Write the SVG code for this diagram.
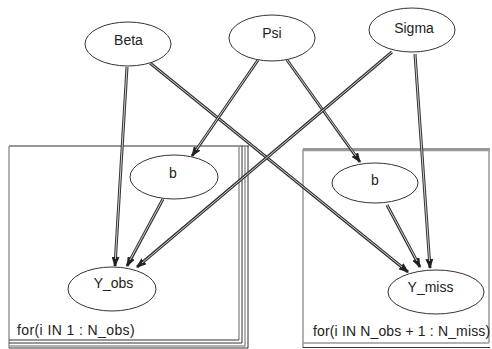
<svg xmlns="http://www.w3.org/2000/svg" width="492" height="349" viewBox="0 0 492 349">
<style>
.node ellipse{fill:#fff;stroke:#333;stroke-width:1}
text{font-family:"Liberation Sans",Arial,sans-serif;font-size:14px;fill:#222}
.lbl{text-anchor:middle}
.eo{stroke:#333;stroke-width:3;fill:none}
.ei{stroke:#d0d0d0;stroke-width:1;fill:none}
.pd{stroke:#333;stroke-width:1;fill:none}
.pg{stroke:#999;stroke-width:1.5;fill:none}
</style>
<defs>
<marker id="ah" markerUnits="userSpaceOnUse" markerWidth="10" markerHeight="8" refX="9" refY="4" orient="auto">
<path d="M0,0 L10,4 L0,8 z" fill="#222"/>
</marker>
</defs>
<g id="plate-obs">
<line class="pd" x1="9" y1="146" x2="249" y2="146"/>
<line class="pg" x1="9" y1="146" x2="9" y2="348"/>
<line class="pg" x1="239" y1="146" x2="239" y2="340"/>
<line class="pd" x1="9" y1="340" x2="239" y2="340"/>
<polyline class="pd" points="242,146 242,343 9,343"/>
<polyline class="pg" points="245,146 245,346 9,346"/>
<polyline class="pd" points="248,146 248,348 9,348"/>
<text x="17" y="335" style="letter-spacing:0.4px">for(i IN 1 : N_obs)</text>
</g>
<g id="plate-miss">
<line class="pd" x1="303" y1="149" x2="490" y2="149"/>
<line class="pg" x1="303" y1="150.5" x2="489" y2="150.5"/>
<line class="pg" x1="303" y1="149" x2="303" y2="348"/>
<line class="pg" x1="489" y1="149" x2="489" y2="343"/>
<line class="pg" x1="303" y1="343" x2="489" y2="343"/>
<line class="pd" x1="303" y1="347.5" x2="490" y2="347.5"/>
<text x="313" y="336" style="letter-spacing:0.15px">for(i IN N_obs + 1 : N_miss)</text>
</g>
<g id="connectors">
<line class="eo" x1="127" y1="67" x2="115" y2="266" marker-end="url(#ah)"/>
<line class="ei" x1="127" y1="67" x2="115.4" y2="259"/>
<line class="eo" x1="150" y1="63" x2="408" y2="272" marker-end="url(#ah)"/>
<line class="ei" x1="150" y1="63" x2="402" y2="267"/>
<line class="eo" x1="258" y1="60" x2="192" y2="156" marker-end="url(#ah)"/>
<line class="ei" x1="258" y1="60" x2="196" y2="150"/>
<line class="eo" x1="287" y1="60" x2="360" y2="162" marker-end="url(#ah)"/>
<line class="ei" x1="287" y1="60" x2="356" y2="156"/>
<line class="eo" x1="392" y1="52" x2="137" y2="267" marker-end="url(#ah)"/>
<line class="ei" x1="392" y1="52" x2="142" y2="263"/>
<line class="eo" x1="415" y1="54" x2="430" y2="268" marker-end="url(#ah)"/>
<line class="ei" x1="415" y1="54" x2="429.5" y2="261"/>
<line class="eo" x1="163" y1="199" x2="127" y2="266" marker-end="url(#ah)"/>
<line class="ei" x1="163" y1="199" x2="130" y2="260"/>
<line class="eo" x1="387" y1="205" x2="420" y2="267" marker-end="url(#ah)"/>
<line class="ei" x1="387" y1="205" x2="417" y2="261"/>
</g>
<g id="node-beta" class="node">
<ellipse cx="128" cy="44" rx="43" ry="22"/>
<text class="lbl" x="128.5" y="45">Beta</text>
</g>
<g id="node-psi" class="node">
<ellipse cx="272" cy="38" rx="43" ry="23"/>
<text class="lbl" x="272" y="38">Psi</text>
</g>
<g id="node-sigma" class="node">
<ellipse cx="412" cy="30" rx="43" ry="22"/>
<text class="lbl" x="414" y="33">Sigma</text>
</g>
<g id="node-b-obs" class="node">
<ellipse cx="174" cy="177" rx="44" ry="22"/>
<text class="lbl" x="173" y="178">b</text>
</g>
<g id="node-y-obs" class="node">
<ellipse cx="112" cy="289" rx="44" ry="22"/>
<text class="lbl" x="113.5" y="288">Y_obs</text>
</g>
<g id="node-b-miss" class="node">
<ellipse cx="375" cy="183" rx="43" ry="20"/>
<text class="lbl" x="375" y="185">b</text>
</g>
<g id="node-y-miss" class="node">
<ellipse cx="436" cy="292" rx="48" ry="22"/>
<text class="lbl" x="430.5" y="292">Y_miss</text>
</g>
</svg>
